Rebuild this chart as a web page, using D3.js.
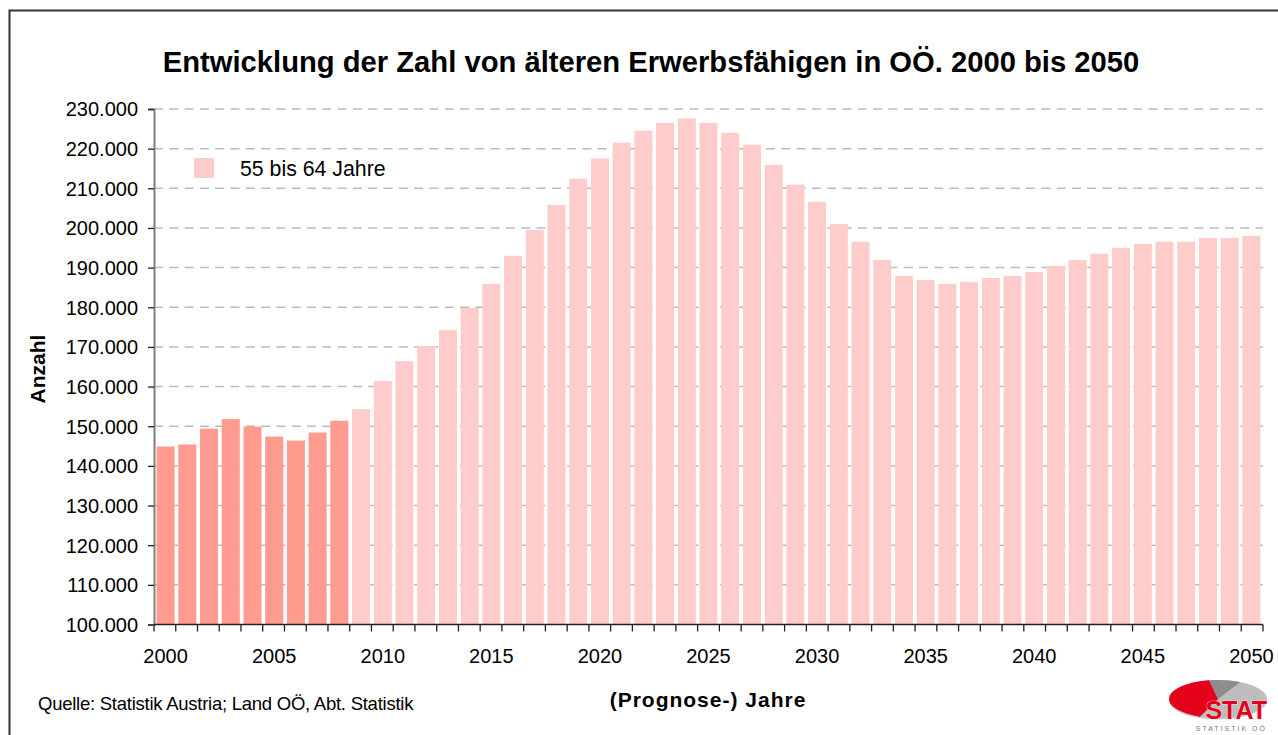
<!DOCTYPE html>
<html>
<head>
<meta charset="utf-8">
<script src="https://cdn.jsdelivr.net/npm/d3@7"></script>
<style>
  html, body { margin: 0; padding: 0; background: #fff; }
  svg { display: block; font-family: "Liberation Sans", Arial, sans-serif; }
</style>
</head>
<body>
<svg id="chart" width="1278" height="735"></svg>
<script>
// ---- data ----
const years = d3.range(2000, 2051).map(String);
const values = [
  144900, 145400, 149400, 151800, 149900, 147400, 146400, 148400, 151400, 154300,
  161400, 166400, 170200, 174300, 179800, 185900, 193000, 199500, 205800, 212400,
  217500, 221500, 224500, 226500, 227600, 226500, 224000, 221000, 215900, 210900,
  206600, 201000, 196500, 191900, 187900, 186900, 185900, 186400, 187400, 187900,
  188900, 190400, 191900, 193500, 195000, 196000, 196500, 196500, 197500, 197500,
  198000
];
const observedYears = ["2000","2001","2002","2003","2004","2005","2006","2007","2008"];
const xTickLabels = ["2000","2005","2010","2015","2020","2025","2030","2035","2040","2045","2050"];
const yTickValues = [100000,110000,120000,130000,140000,150000,160000,170000,180000,190000,200000,210000,220000,230000];
const seriesName = "55 bis 64 Jahre";
const titleText = "Entwicklung der Zahl von älteren Erwerbsfähigen in OÖ. 2000 bis 2050";
const yAxisTitle = "Anzahl";
const xAxisTitle = "(Prognose-) Jahre";
const sourceText = "Quelle: Statistik Austria; Land OÖ, Abt. Statistik";

// ---- layout ----
const svg = d3.select("#chart");
const pL = 154, pR = 1263, pT = 109, pB = 624.5;
const colObserved = "#FF9C8F", colForecast = "#FFCCCC";

const x = d3.scaleBand().domain(years).range([pL, pR]).paddingInner(0.17).paddingOuter(0.12);
const y = d3.scaleLinear().domain([100000, 230000]).range([pB, pT]);
const fmt = d3.formatLocale({decimal: ",", thousands: ".", grouping: [3], currency: ["", ""]}).format(",.0f");

// frame
svg.append("path").attr("d", `M9.5,740 L9.5,10.5 L1290,10.5`)
  .attr("fill", "none").attr("stroke", "#333").attr("stroke-width", 2);

// title
svg.append("text").attr("x", 651).attr("y", 72).attr("text-anchor", "middle")
  .attr("font-size", 29.2).attr("font-weight", "bold").attr("fill", "#000").text(titleText);

// gridlines
svg.append("g").selectAll("line").data(yTickValues.slice(1)).join("line")
  .attr("x1", pL).attr("x2", pR)
  .attr("y1", d => y(d)).attr("y2", d => y(d))
  .attr("stroke", "#bcbcbc").attr("stroke-width", 1.5).attr("stroke-dasharray", "9,6.3");

// bars
svg.append("g").selectAll("rect").data(years).join("rect")
  .attr("x", d => x(d)).attr("width", x.bandwidth())
  .attr("y", (d, i) => y(values[i])).attr("height", (d, i) => y(100000) - y(values[i]))
  .attr("fill", d => observedYears.includes(d) ? colObserved : colForecast);

// y axis
const yAxis = svg.append("g").attr("transform", `translate(${pL},0)`)
  .call(d3.axisLeft(y).tickValues(yTickValues).tickFormat(fmt).tickSize(6).tickPadding(10));
yAxis.select(".domain").attr("stroke", "#808080").attr("stroke-width", 2);
yAxis.selectAll(".tick line").attr("stroke", "#222").attr("stroke-width", 1.3);
yAxis.selectAll(".tick text").attr("font-size", 20).attr("fill", "#000")
  .attr("font-family", "Liberation Sans, Arial, sans-serif").attr("dy", "0.34em");

// x axis
const xg = svg.append("g").attr("transform", `translate(0,${pB})`);
xg.append("line").attr("x1", pL).attr("x2", pR).attr("y1", 0).attr("y2", 0)
  .attr("stroke", "#222").attr("stroke-width", 1.3);
const boundaries = years.map((d, i) => pL + i * (pR - pL) / years.length).concat([pR]);
xg.selectAll("line.tk").data(boundaries).join("line").attr("class", "tk")
  .attr("x1", d => d).attr("x2", d => d).attr("y1", 0).attr("y2", 7)
  .attr("stroke", "#222").attr("stroke-width", 1.3);
const xAxis = svg.append("g").attr("transform", `translate(0,${pB})`)
  .call(d3.axisBottom(x).tickValues(xTickLabels).tickSize(0).tickPadding(24));
xAxis.select(".domain").remove();
xAxis.selectAll(".tick text").attr("font-size", 20).attr("fill", "#000")
  .attr("font-family", "Liberation Sans, Arial, sans-serif");

// axis titles
svg.append("text").attr("transform", "translate(45,369) rotate(-90)").attr("text-anchor", "middle")
  .attr("font-size", 21).attr("font-weight", "bold").attr("fill", "#000").text(yAxisTitle);
svg.append("text").attr("x", 708).attr("y", 707).attr("text-anchor", "middle")
  .attr("font-size", 21).attr("font-weight", "bold").attr("letter-spacing", 1).attr("fill", "#000").text(xAxisTitle);

// source
svg.append("text").attr("x", 38).attr("y", 710).attr("font-size", 18.5).attr("letter-spacing", -0.25)
  .attr("fill", "#000").text(sourceText);

// legend
svg.append("rect").attr("x", 194).attr("y", 158).attr("width", 20).attr("height", 20).attr("fill", colForecast);
svg.append("text").attr("x", 240).attr("y", 175.5).attr("font-size", 21.3).attr("fill", "#000").text(seriesName);

// STAT logo
const logo = svg.append("g");
const cx = 1218, cy = 699, rx = 49, ry = 19;
logo.append("ellipse").attr("cx", cx).attr("cy", cy + 1.5).attr("rx", rx).attr("ry", ry).attr("fill", "#c8c8c8");
logo.append("ellipse").attr("cx", cx).attr("cy", cy).attr("rx", rx).attr("ry", ry).attr("fill", "#bdbdbd");
const pt = a => [cx + rx * Math.cos(a), cy + ry * Math.sin(a)];
const p1 = pt(-1.75), p2 = pt(1.95), p3 = pt(-1.1);
logo.append("path").attr("d", `M${cx},${cy} L${p2[0]},${p2[1]} A${rx},${ry} 0 0 1 ${p1[0]},${p1[1]} Z`)
  .attr("fill", "#e3001b");
logo.append("path").attr("d", `M${cx},${cy} L${p1[0]},${p1[1]} A${rx},${ry} 0 0 1 ${p3[0]},${p3[1]} Z`)
  .attr("fill", "#8c8c8c");
logo.append("text").attr("x", 1267).attr("y", 719).attr("text-anchor", "end")
  .attr("font-size", 25).attr("font-weight", "bold").attr("fill", "#e3001b")
  .attr("stroke", "#fff").attr("stroke-width", 0.6).attr("paint-order", "stroke").text("STAT");
logo.append("text").attr("x", 1267).attr("y", 731).attr("text-anchor", "end")
  .attr("font-size", 7).attr("letter-spacing", 2).attr("fill", "#777").text("STATISTIK OÖ");
</script>
</body>
</html>
